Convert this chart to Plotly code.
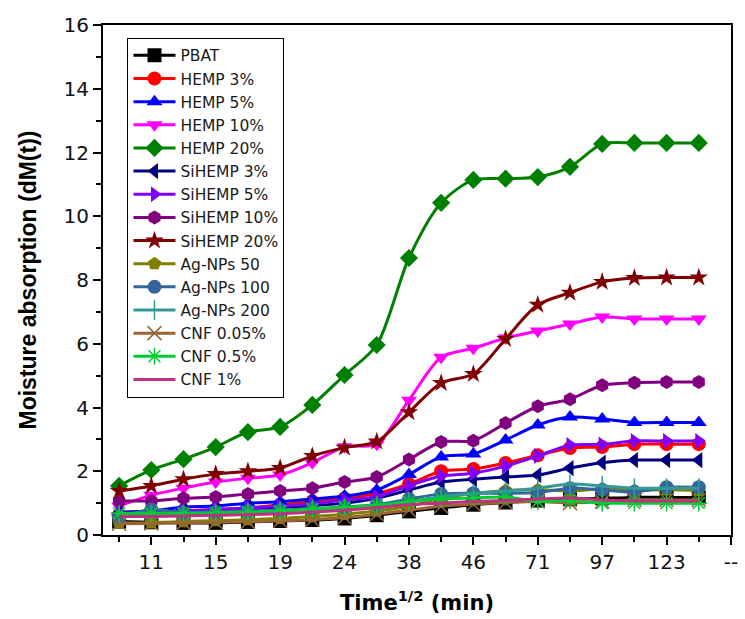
import plotly.graph_objects as go

positions = list(range(1, 20))
tick_positions = [2, 4, 6, 8, 10, 12, 14, 16, 18, 20]
tick_labels = ["11", "15", "19", "24", "38", "46", "71", "97", "123", "--"]

pbat = [0.42, 0.40, 0.38, 0.38, 0.41, 0.44, 0.47, 0.52, 0.62, 0.74, 0.85, 0.95, 1.02, 1.08, 1.12, 1.15, 1.18, 1.18, 1.18]
hemp3 = [0.62, 0.68, 0.75, 0.80, 0.85, 0.95, 1.05, 1.15, 1.30, 1.60, 2.00, 2.07, 2.26, 2.50, 2.73, 2.76, 2.85, 2.85, 2.85]
hemp5 = [0.72, 0.75, 0.88, 0.91, 1.00, 1.04, 1.13, 1.22, 1.41, 1.90, 2.45, 2.54, 2.98, 3.45, 3.70, 3.64, 3.53, 3.53, 3.53]
hemp10 = [0.91, 1.25, 1.47, 1.66, 1.78, 1.88, 2.27, 2.77, 2.85, 4.23, 5.58, 5.86, 6.18, 6.40, 6.62, 6.84, 6.78, 6.78, 6.78]
hemp20 = [1.54, 2.04, 2.38, 2.76, 3.23, 3.39, 4.08, 5.02, 5.96, 8.69, 10.42, 11.14, 11.18, 11.23, 11.55, 12.27, 12.30, 12.30, 12.30]
sihemp3 = [0.70, 0.72, 0.75, 0.78, 0.82, 0.87, 0.92, 1.00, 1.15, 1.41, 1.66, 1.75, 1.82, 1.88, 2.10, 2.27, 2.35, 2.35, 2.35]
sihemp5 = [0.68, 0.70, 0.75, 0.80, 0.85, 0.90, 0.98, 1.10, 1.20, 1.55, 1.85, 1.94, 2.16, 2.48, 2.82, 2.84, 2.95, 2.95, 2.95]
sihemp10 = [1.07, 1.07, 1.15, 1.19, 1.29, 1.38, 1.47, 1.66, 1.82, 2.37, 2.92, 2.96, 3.51, 4.04, 4.26, 4.70, 4.78, 4.80, 4.80]
sihemp20 = [1.38, 1.54, 1.75, 1.91, 2.00, 2.10, 2.48, 2.74, 2.93, 3.85, 4.77, 5.05, 6.15, 7.22, 7.60, 7.94, 8.06, 8.08, 8.08]
ag50 = [0.38, 0.38, 0.42, 0.45, 0.48, 0.52, 0.58, 0.65, 0.75, 0.90, 1.15, 1.30, 1.40, 1.42, 1.38, 1.45, 1.40, 1.42, 1.40]
ag100 = [0.55, 0.80, 0.70, 0.72, 0.75, 0.78, 0.82, 0.88, 0.95, 1.13, 1.29, 1.31, 1.31, 1.33, 1.47, 1.41, 1.35, 1.50, 1.50]
ag200 = [0.60, 0.62, 0.65, 0.68, 0.72, 0.76, 0.80, 0.85, 0.92, 1.05, 1.20, 1.30, 1.38, 1.47, 1.60, 1.54, 1.47, 1.47, 1.47]
cnf005 = [0.35, 0.36, 0.38, 0.40, 0.42, 0.45, 0.48, 0.55, 0.65, 0.78, 0.90, 0.97, 1.02, 1.05, 1.00, 1.05, 1.10, 1.10, 1.10]
cnf05 = [0.68, 0.68, 0.68, 0.70, 0.72, 0.75, 0.82, 0.87, 0.93, 1.05, 1.13, 1.16, 1.19, 1.05, 1.08, 1.00, 1.00, 1.00, 1.00]
cnf1 = [0.58, 0.58, 0.60, 0.62, 0.64, 0.67, 0.72, 0.78, 0.86, 0.95, 1.00, 1.05, 1.08, 1.13, 1.16, 1.10, 1.07, 1.07, 1.07]

series = [
    ("PBAT", pbat, "#000000", "square"),
    ("HEMP 3%", hemp3, "#FF0000", "circle"),
    ("HEMP 5%", hemp5, "#0000FF", "triangle-up"),
    ("HEMP 10%", hemp10, "#FF00FF", "triangle-down"),
    ("HEMP 20%", hemp20, "#008000", "diamond"),
    ("SiHEMP 3%", sihemp3, "#000080", "triangle-left"),
    ("SiHEMP 5%", sihemp5, "#8000FF", "triangle-right"),
    ("SiHEMP 10%", sihemp10, "#800080", "hexagon"),
    ("SiHEMP 20%", sihemp20, "#800000", "star"),
    ("Ag-NPs 50", ag50, "#808000", "pentagon"),
    ("Ag-NPs 100", ag100, "#336699", "circle"),
    ("Ag-NPs 200", ag200, "#339999", "line-ns"),
    ("CNF 0.05%", cnf005, "#996633", "x-thin"),
    ("CNF 0.5%", cnf05, "#00CC33", "asterisk"),
    ("CNF 1%", cnf1, "#C03080", None),
]

fig = go.Figure()
for name, vals, color, sym in series:
    if sym is None:
        mode = "lines"
        marker = dict()
    elif sym in ("line-ns", "x-thin", "asterisk"):
        mode = "lines+markers"
        marker = dict(symbol=sym, size=14, color=color, line=dict(color=color, width=1.5))
    else:
        mode = "lines+markers"
        marker = dict(symbol=sym, size=14, color=color, line=dict(width=0))
    fig.add_trace(go.Scatter(
        x=positions, y=vals, name=name, mode=mode,
        line=dict(color=color, width=3, shape="spline", smoothing=0.8),
        marker=marker,
    ))

ARIAL = "Arial, Liberation Sans, sans-serif"
WIDE = "DejaVu Sans, Arial, sans-serif"
axis_font = dict(family=WIDE, size=20, color="#111111")

fig.update_layout(
    width=745, height=619,
    margin=dict(l=103, r=7, t=25, b=84),
    paper_bgcolor="white", plot_bgcolor="white",
    font=dict(family=ARIAL, color="#000000"),
    showlegend=True,
    legend=dict(
        x=0.039, y=0.975, xanchor="left", yanchor="top",
        bgcolor="white", bordercolor="#000000", borderwidth=1,
        font=dict(family=WIDE, size=15.5, color="#1a1a1a"),
        itemwidth=42, tracegroupgap=0,
    ),
    xaxis=dict(
        range=[0.5, 20], tickmode="array", tickvals=tick_positions, ticktext=tick_labels,
        ticks="outside", ticklen=8, tickwidth=2, tickcolor="#000000",
        showline=True, linewidth=2, linecolor="#000000", mirror=True,
        showgrid=False, zeroline=False, tickfont=axis_font,
        minor=dict(tickmode="array", tickvals=list(range(1, 20, 2)), ticks="outside",
                   ticklen=5, tickwidth=2, tickcolor="#000000", showgrid=False),
        title=dict(text="<b>Time<sup>1/2</sup> (min)</b>",
                   font=dict(family=WIDE, size=21, color="#000000"), standoff=22),
    ),
    yaxis=dict(
        range=[0, 16], tickmode="array", tickvals=list(range(0, 17, 2)),
        ticks="outside", ticklen=8, tickwidth=2, tickcolor="#000000",
        showline=True, linewidth=2, linecolor="#000000", mirror=True,
        showgrid=False, zeroline=False, tickfont=axis_font,
        minor=dict(tickmode="array", tickvals=list(range(1, 16, 2)), ticks="outside",
                   ticklen=5, tickwidth=2, tickcolor="#000000", showgrid=False),
        title=dict(text="<b>Moisture absorption (dM(t))</b>",
                   font=dict(family=ARIAL, size=23, color="#000000"), standoff=20),
    ),
)

fig.write_html("out.html")
